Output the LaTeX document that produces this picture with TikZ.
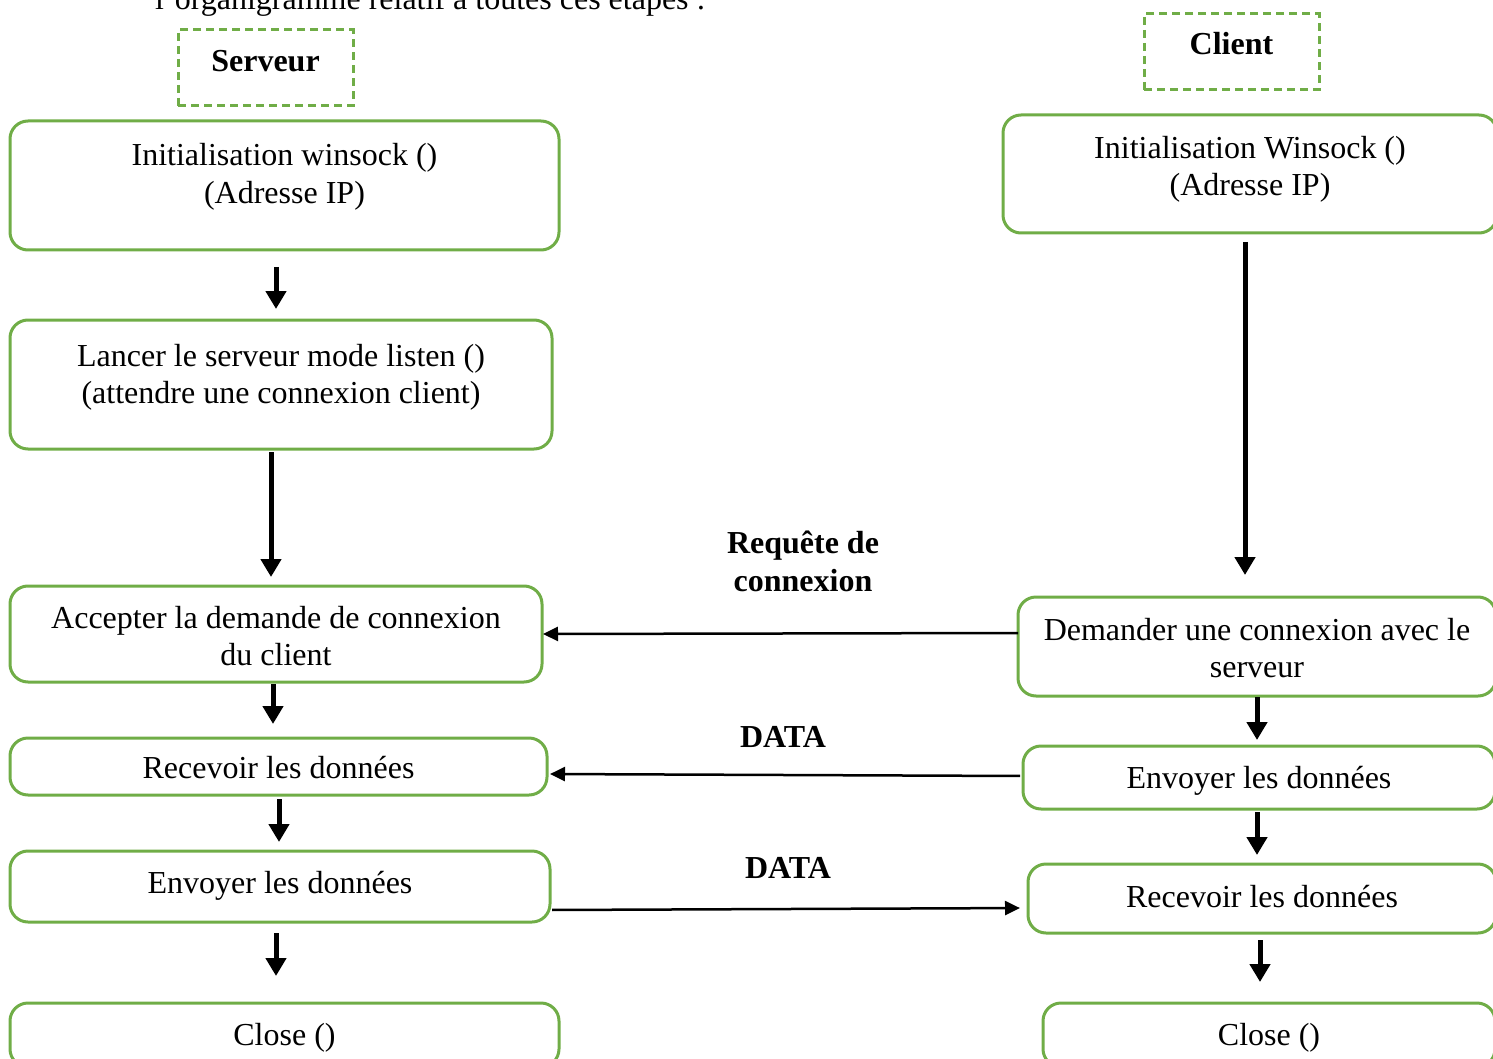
\documentclass[tikz,border=0pt]{standalone}
\usepackage{fontspec}
\setmainfont{Liberation Serif}
\usetikzlibrary{arrows.meta}
\definecolor{boxgreen}{HTML}{70AD47}
\begin{document}
\begin{tikzpicture}[x=1pt,y=-1pt,
  stepbox/.style={draw=boxgreen, line width=3pt, rounded corners=18pt, inner sep=0pt, outer sep=0pt, fill=none},
  headbox/.style={draw=boxgreen, line width=3pt, dash pattern=on 8pt off 5pt, inner sep=0pt, outer sep=0pt},
  txt/.style={font=\fontsize{32}{38}\selectfont, anchor=base, inner sep=0pt},
  btxt/.style={font=\fontsize{32}{38}\selectfont\bfseries, anchor=base, inner sep=0pt},
  vflow/.style={line width=5pt, -{Triangle[width=20pt,length=18pt]}},
  hflow/.style={line width=2.5pt, -{Triangle[width=14pt,length=15pt]}}]
\useasboundingbox (0,0) rectangle (1493,1059);
\clip (0,0) rectangle (1493,1059);

% cut-off line of text above
\node[txt, anchor=base west] (intro) at (155,10) {l’organigramme relatif à toutes ces étapes :};

% headers
\node[headbox, minimum width=175pt, minimum height=76pt] (hs) at (265.5,68) {};
\node[btxt] (hst) at (265.5,72) {Serveur};
\node[headbox, minimum width=175pt, minimum height=76pt] (hc) at (1231.5,52) {};
\node[btxt] (hct) at (1231.5,55) {Client};

% server boxes
\node[stepbox, minimum width=549pt, minimum height=129pt] (S1) at (284.5,185.5) {};
\node[txt] (S1a) at (284.5,166) {Initialisation winsock ()};
\node[txt] (S1b) at (284.5,204) {(Adresse IP)};

\node[stepbox, minimum width=542pt, minimum height=129pt] (S2) at (281,384.5) {};
\node[txt] (S2a) at (281,366) {Lancer le serveur mode listen ()};
\node[txt] (S2b) at (281,403) {(attendre une connexion client)};

\node[stepbox, minimum width=532pt, minimum height=96pt] (S3) at (276,634) {};
\node[txt] (S3a) at (276,628) {Accepter la demande de connexion};
\node[txt] (S3b) at (276,665) {du client};

\node[stepbox, minimum width=537pt, minimum height=57pt] (S4) at (278.5,766.5) {};
\node[txt] (S4a) at (278.5,778) {Recevoir les données};

\node[stepbox, minimum width=540pt, minimum height=71pt] (S5) at (280,886.5) {};
\node[txt] (S5a) at (280,893) {Envoyer les données};

\node[stepbox, minimum width=549pt, minimum height=64pt] (S6) at (284.5,1035) {};
\node[txt] (S6a) at (284.5,1045) {Close ()};

% client boxes
\node[stepbox, minimum width=494pt, minimum height=118pt] (C1) at (1250,174) {};
\node[txt] (C1a) at (1250,159) {Initialisation Winsock ()};
\node[txt] (C1b) at (1250,196) {(Adresse IP)};

\node[stepbox, minimum width=478pt, minimum height=99pt] (C2) at (1257,646.5) {};
\node[txt] (C2a) at (1257,640) {Demander une connexion avec le};
\node[txt] (C2b) at (1257,677) {serveur};

\node[stepbox, minimum width=472pt, minimum height=63pt] (C3) at (1259,777.5) {};
\node[txt] (C3a) at (1259,788) {Envoyer les données};

\node[stepbox, minimum width=468pt, minimum height=69pt] (C4) at (1262,898.5) {};
\node[txt] (C4a) at (1262,907) {Recevoir les données};

\node[stepbox, minimum width=452pt, minimum height=64pt] (C5) at (1269,1035) {};
\node[txt] (C5a) at (1269,1045) {Close ()};

% labels on exchanges
\node[btxt] (lreq1) at (803,553) {Requête de};
\node[btxt] (lreq2) at (803,591) {connexion};
\node[btxt] (ldata1) at (783,747) {DATA};
\node[btxt] (ldata2) at (788,878) {DATA};

% vertical flow, server
\draw[vflow, shorten <=17pt, shorten >=11pt] ([xshift=-8.5pt]S1.south) -- ([xshift=-5pt]S2.north);
\draw[vflow, shorten <=3pt, shorten >=9pt] ([xshift=-10pt]S2.south) -- ([xshift=-5pt]S3.north);
\draw[vflow, shorten <=2pt, shorten >=14pt] ([xshift=-3pt]S3.south) -- ([xshift=-5.5pt]S4.north);
\draw[vflow, shorten <=4pt, shorten >=9pt] ([xshift=0.5pt]S4.south) -- ([xshift=-1pt]S5.north);
\draw[vflow, shorten <=11pt, shorten >=27pt] ([xshift=-4pt]S5.south) -- ([xshift=-8.5pt]S6.north);

% vertical flow, client
\draw[vflow, shorten <=9pt, shorten >=22pt] ([xshift=-5pt]C1.south) -- ([xshift=-12pt]C2.north);
\draw[vflow, shorten <=1pt, shorten >=6pt] (C2.south) -- ([xshift=-2pt]C3.north);
\draw[vflow, shorten <=3pt, shorten >=9pt] ([xshift=-2pt]C3.south) -- ([xshift=-5pt]C4.north);
\draw[vflow, shorten <=7pt, shorten >=21pt] ([xshift=-2pt]C4.south) -- ([xshift=-9pt]C5.north);

% horizontal exchanges
\draw[hflow, shorten >=1pt] ([yshift=13.5pt]C2.west) -- (S3.east);
\draw[hflow, shorten <=3pt, shorten >=3pt] ([yshift=1.5pt]C3.west) -- ([yshift=-7.5pt]S4.east);
\draw[hflow, shorten <=2pt, shorten >=8pt] ([yshift=-23.5pt]S5.east) -- ([yshift=-9.5pt]C4.west);
\end{tikzpicture}
\end{document}
